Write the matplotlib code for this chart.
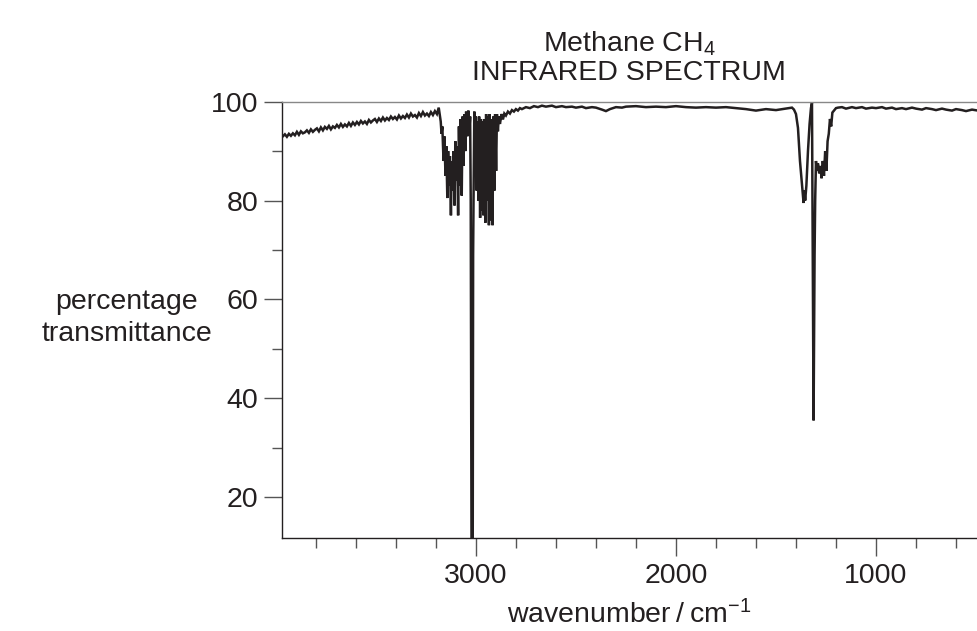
import matplotlib
matplotlib.use('Agg')
import matplotlib.pyplot as plt

plt.rcParams['font.family'] = ['Liberation Sans', 'DejaVu Sans']
plt.rcParams['mathtext.fontset'] = 'custom'
plt.rcParams['mathtext.rm'] = 'Liberation Sans'
plt.rcParams['mathtext.it'] = 'Liberation Sans:italic'
plt.rcParams['mathtext.bf'] = 'Liberation Sans:bold'

# ---------------- data (wavenumber / cm-1, % transmittance) ----------------
wn_high = [3965, 3955, 3945, 3935, 3925, 3915, 3905, 3895, 3885, 3875, 3865, 3855,
           3845, 3835, 3825, 3815, 3805, 3795, 3785, 3775, 3765, 3755, 3745, 3735,
           3725, 3715, 3705, 3695, 3685, 3675, 3665, 3655, 3645, 3635, 3625, 3615,
           3605, 3595, 3585, 3575, 3565, 3555, 3545, 3535, 3525, 3515, 3505, 3495,
           3485, 3475, 3465, 3455, 3445, 3435, 3425, 3415, 3405, 3395, 3385, 3375,
           3365, 3355, 3345, 3335, 3325, 3315, 3305, 3295, 3285, 3275, 3265, 3255,
           3245, 3235, 3225, 3215, 3205, 3195, 3186]
t_high = [93.0, 93.4, 92.9, 93.5, 93.1, 93.6, 93.2, 93.9, 93.3, 94.0, 93.6, 93.8,
          94.2, 93.7, 94.4, 93.9, 94.3, 94.6, 94.0, 94.8, 94.2, 94.9, 94.5, 95.1,
          94.4, 95.0, 94.7, 95.3, 94.8, 95.5, 94.9, 95.4, 95.0, 95.7, 95.1, 95.8,
          95.3, 95.9, 95.4, 96.1, 95.6, 96.0, 95.5, 96.3, 95.8, 96.2, 96.5, 95.9,
          96.6, 96.1, 96.8, 96.2, 96.7, 96.3, 97.0, 96.5, 96.9, 96.4, 97.2, 96.6,
          97.1, 96.7, 97.4, 96.8, 97.6, 97.0, 97.3, 96.8, 97.7, 97.1, 97.9, 97.2,
          97.6, 97.1, 97.9, 97.3, 98.1, 97.5, 98.8]

# C-H stretching band (R branch, Q branch, P branch)
wn_ch = [3176, 3172, 3168, 3162, 3158, 3152, 3148, 3143, 3139, 3134, 3130, 3125,
         3121, 3116, 3112, 3107, 3103, 3098, 3094, 3089, 3085, 3080, 3076, 3071,
         3067, 3062, 3058, 3053, 3049, 3043, 3038, 3033, 3029, 3026, 3022, 3016,
         3014, 3012, 3008, 3004, 3000, 2996, 2992, 2988, 2984, 2979, 2975, 2970,
         2966, 2962, 2958, 2953, 2949, 2945, 2940, 2935, 2931, 2926, 2922, 2917,
         2913, 2908, 2904, 2899, 2895, 2890, 2886, 2880, 2872, 2865]
t_ch = [96.0, 93.5, 95.0, 88.0, 93.0, 85.0, 91.0, 80.5, 90.0, 83.0, 89.0, 77.0,
        88.0, 82.0, 90.0, 79.0, 92.0, 84.0, 91.0, 77.0, 95.0, 83.0, 96.5, 81.0,
        97.0, 87.0, 97.5, 90.0, 98.0, 93.0, 98.2, 94.0, 97.0, 80.0, 10.0, 10.0,
        69.0, 80.0, 98.0, 86.0, 97.0, 82.0, 96.0, 80.0, 97.0, 76.5, 96.5, 78.0,
        96.0, 77.0, 96.5, 75.5, 97.5, 80.0, 97.0, 75.0, 97.5, 76.0, 96.5, 75.0,
        97.0, 82.0, 97.5, 86.0, 97.5, 94.0, 97.0, 95.5, 97.5, 96.4]

# plateau between the two bands
wn_mid = [2858, 2850, 2840, 2830, 2820, 2810, 2800, 2790, 2780, 2770, 2750, 2730,
          2710, 2690, 2670, 2650, 2620, 2600, 2570, 2550, 2520, 2500, 2470, 2450,
          2420, 2400, 2370, 2350, 2330, 2300, 2270, 2250, 2200, 2150, 2100, 2050,
          2000, 1950, 1900, 1850, 1800, 1750, 1700, 1650, 1600, 1550, 1500, 1450,
          1420, 1410]
t_mid = [97.6, 97.2, 98.0, 97.6, 98.3, 98.0, 98.5, 98.2, 98.7, 98.5, 98.9, 98.7,
         99.1, 98.9, 99.2, 99.0, 99.2, 98.9, 99.1, 98.9, 99.0, 98.8, 99.0, 98.7,
         98.9, 98.8, 98.4, 98.1, 98.5, 98.9, 98.8, 99.0, 99.1, 98.9, 99.0, 98.9,
         99.1, 98.9, 98.8, 98.9, 98.8, 98.9, 98.7, 98.5, 98.2, 98.5, 98.3, 98.6,
         98.8, 98.4]

# C-H bending band
wn_bend = [1400, 1390, 1380, 1371, 1366, 1362, 1358, 1354, 1348, 1340, 1332, 1325,
           1320, 1312, 1307, 1304, 1300, 1296, 1290, 1284, 1278, 1272, 1266, 1260,
           1254, 1248, 1242, 1236, 1230, 1224, 1218, 1210, 1200, 1190]
t_bend = [97.5, 94.7, 88.0, 83.8, 81.5, 79.5, 82.0, 80.0, 83.0, 90.0, 95.5, 98.7,
          99.8, 35.5, 69.0, 80.0, 88.0, 86.0, 87.5, 85.5, 87.0, 84.5, 88.0, 85.0,
          90.0, 86.0, 92.0, 93.5, 96.5, 95.0, 97.8, 98.2, 98.7, 98.8]

# fingerprint tail
wn_low = [1170, 1150, 1120, 1100, 1070, 1050, 1020, 1000, 970, 950, 920, 900,
          870, 850, 820, 800, 770, 750, 720, 700, 670, 650, 620, 600, 570, 550,
          520, 490]
t_low = [98.9, 98.6, 98.9, 98.7, 98.9, 98.6, 98.8, 98.7, 98.9, 98.6, 98.8, 98.5,
         98.7, 98.5, 98.8, 98.6, 98.4, 98.7, 98.5, 98.3, 98.6, 98.4, 98.2, 98.5,
         98.3, 98.1, 98.4, 98.2]

wavenumber = wn_high + wn_ch + wn_mid + wn_bend + wn_low
transmittance = t_high + t_ch + t_mid + t_bend + t_low

x_major = [3000, 2000, 1000]
x_minor = [3800, 3600, 3400, 3200, 2800, 2600, 2400, 2200, 1800, 1600, 1400, 1200,
           800, 600]
y_major = [20, 40, 60, 80, 100]
y_minor = [30, 50, 70, 90]

# ---------------- figure ----------------
W, H = 978, 631
fig = plt.figure(figsize=(W / 100, H / 100), dpi=100)
left_px, right_px, top_px, bottom_px = 282.3, 978, 101.7, 538
ax = fig.add_axes([left_px / W, 1 - bottom_px / H,
                   (right_px - left_px) / W, (bottom_px - top_px) / H])

ink = '#231f20'
ax.plot(wavenumber, transmittance, color=ink, lw=1.8, solid_joinstyle='miter')
ax.set_xlim(3968, 490)
ax.set_ylim(11.7, 100)

ax.set_xticks(x_major)
ax.set_xticks(x_minor, minor=True)
ax.set_yticks(y_major)
ax.set_yticks(y_minor, minor=True)
ax.set_xticklabels([str(v) for v in x_major])
ax.set_yticklabels([str(v) for v in y_major])

ax.tick_params(which='major', direction='out', length=13.2, width=1.0,
               color='#555555', labelsize=20.5, labelcolor=ink)
ax.tick_params(axis='x', which='major', pad=5)
ax.tick_params(axis='y', which='major', pad=4)
ax.tick_params(which='minor', direction='out', length=7.2, width=1.0,
               color='#555555')

ax.spines['right'].set_visible(False)
ax.spines['top'].set_color('#888888')
ax.spines['top'].set_linewidth(1.0)
for s in ('left', 'bottom'):
    ax.spines[s].set_color(ink)
    ax.spines[s].set_linewidth(1.0)

fs = 20.5
cx = 629 / W
fig.text(cx, 1 - 52 / H, r'Methane CH$_4$', ha='center', va='baseline',
         fontsize=fs, color=ink)
fig.text(cx, 1 - 80 / H, 'INFRARED SPECTRUM', ha='center', va='baseline',
         fontsize=fs, color=ink)
fig.text(127 / W, 1 - 318 / H, 'percentage\ntransmittance', ha='center',
         va='center', fontsize=fs, color=ink, linespacing=1.3)
fig.text(cx, 1 - 623 / H, 'wavenumber\u2009/\u2009cm$^{\u22121}$', ha='center',
         va='baseline', fontsize=fs, color=ink)

fig.savefig('out.png', dpi=100)
